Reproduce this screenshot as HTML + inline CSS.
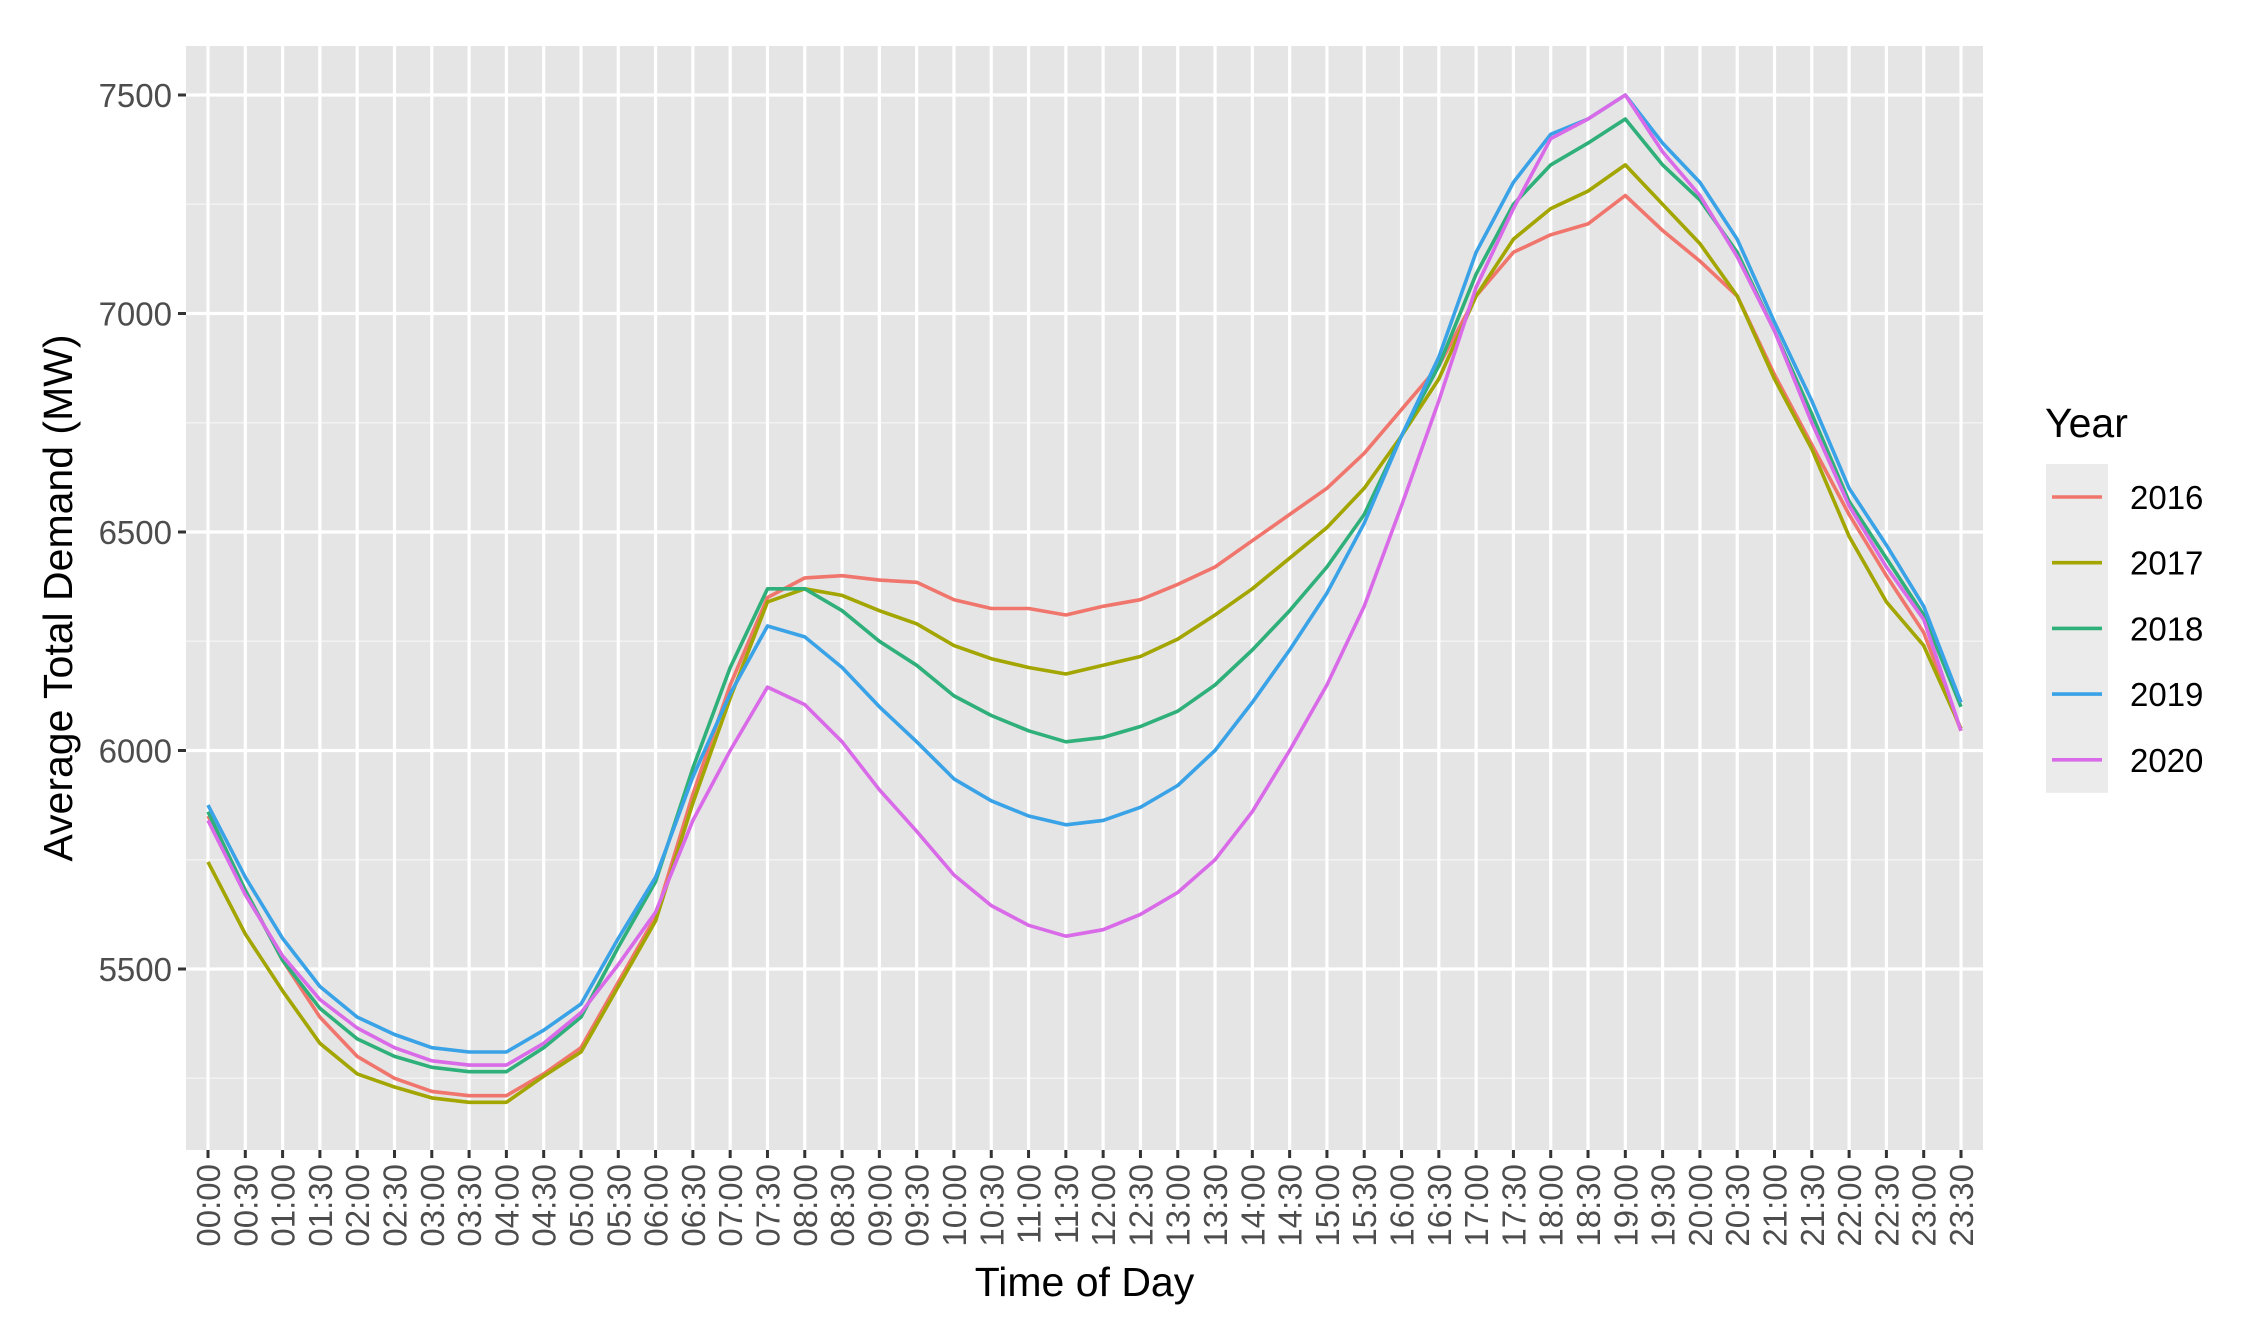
<!DOCTYPE html>
<html><head><meta charset="utf-8"><style>
html,body{margin:0;padding:0;background:#fff;}
svg{display:block;font-family:"Liberation Sans",Arial,sans-serif;}
</style></head><body>
<svg id="chart" width="2248" height="1344" viewBox="0 0 2248 1344" xmlns="http://www.w3.org/2000/svg">
<rect x="0" y="0" width="2248" height="1344" fill="#fff"/>
<g id="panel"></g>
<g id="axes"></g>
<g id="series"></g>
<g id="legend"></g>
</svg>
<script>
const categories = [];
for (let h = 0; h < 24; h++) { for (const m of ["00","30"]) categories.push(String(h).padStart(2,"0")+":"+m); }
const years = ["2016","2017","2018","2019","2020"];
const colors = ["#F0766D","#A3A500","#2FB07A","#3AA2E6","#D96AE8"];
const s2016 = [5850,5680,5520,5390,5300,5250,5220,5210,5210,5260,5320,5470,5620,5900,6150,6350,6395,6400,6390,6385,6345,6325,6325,6310,6330,6345,6380,6420,6480,6540,6600,6680,6780,6880,7040,7140,7180,7205,7270,7190,7120,7040,6860,6700,6540,6400,6270,6045];
const s2017 = [5745,5580,5450,5330,5260,5230,5205,5195,5195,5255,5310,5460,5610,5880,6120,6340,6370,6355,6320,6290,6240,6210,6190,6175,6195,6215,6255,6310,6370,6440,6510,6600,6720,6850,7040,7170,7240,7280,7340,7250,7160,7040,6850,6690,6490,6340,6240,6050];
const s2018 = [5860,5680,5520,5410,5340,5300,5275,5265,5265,5320,5390,5550,5700,5960,6190,6370,6370,6320,6250,6195,6125,6080,6045,6020,6030,6055,6090,6150,6230,6320,6420,6540,6720,6880,7090,7250,7340,7390,7445,7340,7260,7140,6960,6770,6570,6440,6310,6100];
const s2019 = [5875,5710,5570,5460,5390,5350,5320,5310,5310,5360,5420,5570,5710,5940,6130,6285,6260,6190,6100,6020,5935,5885,5850,5830,5840,5870,5920,6000,6110,6230,6360,6520,6720,6900,7140,7300,7410,7445,7500,7390,7300,7170,6980,6800,6600,6470,6330,6110];
const s2020 = [5840,5670,5530,5430,5365,5320,5290,5280,5280,5330,5400,5510,5630,5840,6000,6145,6105,6020,5910,5815,5715,5645,5600,5575,5590,5625,5675,5750,5860,6000,6150,6330,6560,6800,7060,7240,7400,7445,7500,7370,7270,7130,6960,6750,6560,6420,6300,6045];
const yTicks = [5500,6000,6500,7000,7500];
const yMinor = [5250,5750,6250,6750,7250];

const NS = "http://www.w3.org/2000/svg";
const PL = 186, PR = 1983, PT = 46, PB = 1150;
const X0 = 208, DX = (1961 - 208) / 47;
function xs(i){ return X0 + i*DX; }
function ys(v){ return 969 - (v - 5500) * 0.437; }
function mk(tag, attrs, parent){ const e = document.createElementNS(NS, tag); for (const k in attrs) e.setAttribute(k, attrs[k]); parent.appendChild(e); return e; }

const panel = document.getElementById("panel");
const bg = mk("rect",{x:PL,y:PT,width:PR-PL,height:PB-PT,fill:"#E5E5E5"},panel);


yMinor.forEach(v => {
  const l = mk("line",{x1:PL,x2:PR,y1:ys(v),y2:ys(v),stroke:"#F2F2F2","stroke-width":1.6},panel);
  
  
});
yTicks.forEach(v => {
  const l = mk("line",{x1:PL,x2:PR,y1:ys(v),y2:ys(v),stroke:"#FFFFFF","stroke-width":3.2},panel);
  
  
});
categories.forEach((c,i) => {
  const l = mk("line",{x1:xs(i),x2:xs(i),y1:PT,y2:PB,stroke:"#FFFFFF","stroke-width":3.2},panel);
  
  
});

const axes = document.getElementById("axes");
yTicks.forEach(v => {
  const t = mk("line",{x1:PL-8,x2:PL,y1:ys(v),y2:ys(v),stroke:"#333","stroke-width":3},axes);
  
  
  const tx = mk("text",{x:PL-14,y:ys(v)+12,"text-anchor":"end","font-size":33,fill:"#4D4D4D"},axes);
  tx.textContent = v;
  
  
});
categories.forEach((c,i) => {
  const t = mk("line",{x1:xs(i),x2:xs(i),y1:PB,y2:PB+8,stroke:"#333","stroke-width":3},axes);
  
  
  const x = xs(i)+12, y = PB+14;
  const tx = mk("text",{x:x,y:y,"text-anchor":"end","font-size":33,fill:"#4D4D4D",transform:`rotate(-90 ${x} ${y})`},axes);
  tx.textContent = c;
  
  
});
const xt = mk("text",{x:(PL+PR)/2,y:1296,"text-anchor":"middle","font-size":41,fill:"#000"},axes);
xt.textContent = "Time of Day";


const yt = mk("text",{x:72,y:(PT+PB)/2,"text-anchor":"middle","font-size":41,fill:"#000",transform:`rotate(-90 72 ${(PT+PB)/2})`},axes);
yt.textContent = "Average Total Demand (MW)";



const seriesG = document.getElementById("series");
const allSeries = [s2016, s2017, s2018, s2019, s2020];
allSeries.forEach((s,k) => {
  const pts = s.map((v,i) => xs(i).toFixed(1)+","+ys(v).toFixed(1)).join(" ");
  const p = mk("polyline",{points:pts,fill:"none",stroke:colors[k],"stroke-width":3.6,"stroke-linejoin":"round"},seriesG);
  
  
});

const lg = document.getElementById("legend");
const lt = mk("text",{x:2045,y:437,"font-size":41,fill:"#000"},lg);
lt.textContent = "Year";


years.forEach((yr,k) => {
  const cy = 497 + k*65.7;
  const kb = mk("rect",{x:2046,y:cy-33,width:62,height:66,fill:"#EBEBEB"},lg);
  
  
  const kl = mk("line",{x1:2052,x2:2102,y1:cy,y2:cy,stroke:colors[k],"stroke-width":3.6},lg);
  
  
  const tx = mk("text",{x:2130,y:cy+12,"font-size":33,fill:"#000"},lg);
  tx.textContent = yr;
  
  
});
</script>
</body></html>
